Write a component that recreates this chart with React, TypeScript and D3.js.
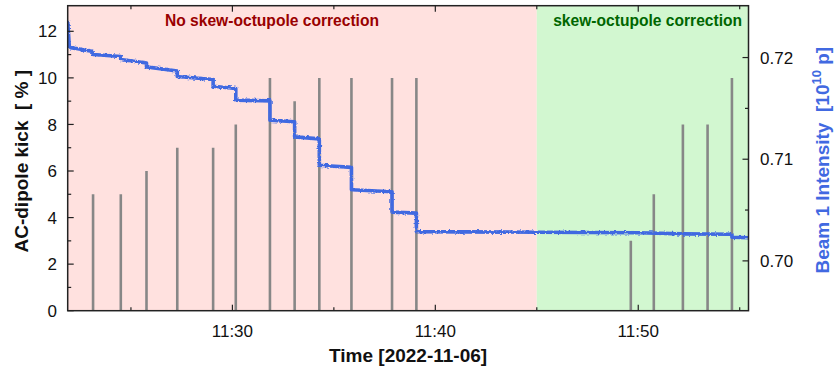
import React from "react";
import * as d3 from "d3";

// AC-dipole kicks: time of each kick and its amplitude [%]
const kickTimes = [
  "11:23:08", "11:24:30", "11:25:46", "11:27:17", "11:29:03", "11:30:10",
  "11:31:51", "11:33:04", "11:34:17", "11:35:52", "11:37:52", "11:39:04",
  "11:49:38", "11:50:46", "11:52:12", "11:53:25", "11:54:37",
];
const kickAmplitudes = [5, 5, 6, 7, 7, 8, 10, 9, 10, 10, 10, 10, 3, 5, 8, 8, 10];

// Beam 1 intensity [1e10 p]
const intensityTimes = [
  "11:21:53", "11:21:58", "11:23:08", "11:23:08", "11:24:30", "11:24:30",
  "11:25:46", "11:25:46", "11:27:17", "11:27:17", "11:29:03", "11:29:03",
  "11:30:10", "11:30:10", "11:31:51", "11:31:51", "11:33:04", "11:33:04",
  "11:34:17", "11:34:17", "11:35:52", "11:35:52", "11:37:52", "11:37:52",
  "11:39:04", "11:39:04", "11:45:00", "11:50:00", "11:52:12", "11:54:37",
  "11:54:37", "11:55:26",
];
const intensityValues = [
  0.7236, 0.7210, 0.7206, 0.7203, 0.7201, 0.7198,
  0.71947, 0.71908, 0.71868, 0.71813, 0.71784, 0.71718,
  0.71695, 0.71581, 0.71574, 0.71384, 0.71368, 0.7122,
  0.7120, 0.7094, 0.7092, 0.7070, 0.7068, 0.7048,
  0.7047, 0.70288, 0.70282, 0.70276, 0.70266, 0.70262,
  0.70232, 0.70228,
];

// Shaded periods
const periodBounds = ["11:21:53", "11:45:00", "11:55:26"];
const periodLabels = ["No skew-octupole correction", "skew-octupole correction"];
const periodFills = ["#ffe1df", "#d2f7d0"];
const periodTextColors = ["#990000", "#006600"];

// Axis ticks
const timeMajorTicks = ["11:30", "11:40", "11:50"];
const timeMinorTicks = ["11:25", "11:35", "11:45", "11:55"];
const kickMajorTicks = [0, 2, 4, 6, 8, 10, 12];
const kickMinorTicks = [1, 3, 5, 7, 9, 11];
const intensityMajorTicks = [0.7, 0.71, 0.72];
const intensityMinorTicks = [0.705, 0.715];

const W = 836;
const H = 366;
const P = { left: 67.7, right: 748.5, top: 5.7, bottom: 310.7 };
const FONT = "'Liberation Sans', Arial, Helvetica, sans-serif";
const BLUE = "#4169e1";

const parseT = d3.timeParse("%H:%M:%S");
const parseHM = d3.timeParse("%H:%M");

export default function App() {
  const x = d3
    .scaleTime()
    .domain([parseT(periodBounds[0])!, parseT(periodBounds[2])!])
    .range([P.left, P.right]);
  const yL = d3.scaleLinear().domain([0, 13.1]).range([P.bottom, P.top]);
  const yR = d3.scaleLinear().domain([0.6951, 0.7251]).range([P.bottom, P.top]);

  const intensity = intensityTimes.map((t, i) => ({ t: parseT(t)!, v: intensityValues[i] }));
  const line = d3
    .line<{ t: Date; v: number }>()
    .x((d) => x(d.t))
    .y((d) => yR(d.v));

  const majorLen = 6;
  const minorLen = 3.5;
  const axisColor = "#222";

  return (
    <svg
      width={W}
      height={H}
      style={{ position: "absolute", left: 0, top: 0, background: "#fff" }}
      fontFamily={FONT}
    >
      <defs>
        <clipPath id="plot-clip">
          <rect x={P.left} y={P.top} width={P.right - P.left} height={P.bottom - P.top} />
        </clipPath>
        {/* slight jitter on the intensity trace (measurement noise) */}
        <filter id="jitter" x="-2%" y="-5%" width="104%" height="110%">
          <feTurbulence type="fractalNoise" baseFrequency="0.35 0.6" numOctaves={2} seed={3} />
          <feDisplacementMap in="SourceGraphic" scale={3.2} xChannelSelector="R" yChannelSelector="G" />
        </filter>
      </defs>

      {/* shaded periods */}
      {periodLabels.map((lab, i) => {
        const x0 = x(parseT(periodBounds[i])!);
        const x1 = x(parseT(periodBounds[i + 1])!);
        return (
          <rect key={lab} x={x0} y={P.top} width={x1 - x0} height={P.bottom - P.top} fill={periodFills[i]} />
        );
      })}

      {/* kicks and intensity */}
      <g clipPath="url(#plot-clip)">
        {kickTimes.map((t, i) => (
          <line
            key={t}
            x1={x(parseT(t)!)}
            x2={x(parseT(t)!)}
            y1={yL(0)}
            y2={yL(kickAmplitudes[i])}
            stroke="#878787"
            strokeWidth={2.6}
          />
        ))}
        <path
          d={line(intensity) ?? ""}
          fill="none"
          stroke={BLUE}
          strokeWidth={3.6}
          strokeLinejoin="round"
          filter="url(#jitter)"
        />
      </g>

      {/* period labels */}
      {periodLabels.map((lab, i) => {
        const x0 = x(parseT(periodBounds[i])!);
        const x1 = x(parseT(periodBounds[i + 1])!);
        const cx = i === 0 ? 272 : (x0 + x1) / 2 + 5;
        return (
          <text
            key={lab}
            x={cx}
            y={26}
            textAnchor="middle"
            fontWeight="bold"
            fontSize={15.6}
            fill={periodTextColors[i]}
          >
            {lab}
          </text>
        );
      })}

      {/* frame */}
      <rect
        x={P.left}
        y={P.top}
        width={P.right - P.left}
        height={P.bottom - P.top}
        fill="none"
        stroke={axisColor}
        strokeWidth={1.5}
      />

      {/* time axis (bottom and top) */}
      {timeMajorTicks.map((s) => {
        const xx = x(parseHM(s)!);
        return (
          <g key={s}>
            <line x1={xx} x2={xx} y1={P.bottom} y2={P.bottom - majorLen} stroke={axisColor} strokeWidth={1.2} />
            <line x1={xx} x2={xx} y1={P.top} y2={P.top + majorLen} stroke={axisColor} strokeWidth={1.2} />
            <text x={xx} y={337} textAnchor="middle" fontSize={17} fill="#111">
              {s}
            </text>
          </g>
        );
      })}
      {timeMinorTicks.map((s) => {
        const xx = x(parseHM(s)!);
        return (
          <g key={s}>
            <line x1={xx} x2={xx} y1={P.bottom} y2={P.bottom - minorLen} stroke={axisColor} strokeWidth={1.2} />
            <line x1={xx} x2={xx} y1={P.top} y2={P.top + minorLen} stroke={axisColor} strokeWidth={1.2} />
          </g>
        );
      })}
      <text
        x={(P.left + P.right) / 2}
        y={362}
        textAnchor="middle"
        fontWeight="bold"
        fontSize={19}
        fill="#111"
      >
        Time [2022-11-06]
      </text>

      {/* left axis: AC-dipole kick */}
      {kickMajorTicks.map((v) => (
        <g key={v}>
          <line x1={P.left} x2={P.left + majorLen} y1={yL(v)} y2={yL(v)} stroke={axisColor} strokeWidth={1.2} />
          <text x={57} y={yL(v)} dy="0.36em" textAnchor="end" fontSize={17} fill="#111">
            {v}
          </text>
        </g>
      ))}
      {kickMinorTicks.map((v) => (
        <line key={v} x1={P.left} x2={P.left + minorLen} y1={yL(v)} y2={yL(v)} stroke={axisColor} strokeWidth={1.2} />
      ))}
      <text
        transform={`translate(28,${(P.top + P.bottom) / 2 + 3}) rotate(-90)`}
        textAnchor="middle"
        fontWeight="bold"
        fontSize={19}
        fill="#111"
        style={{ whiteSpace: "pre" }}
      >
        {"AC-dipole kick  [ % ]"}
      </text>

      {/* right axis: beam intensity */}
      {intensityMajorTicks.map((v) => (
        <g key={v}>
          <line x1={P.right} x2={P.right - majorLen} y1={yR(v)} y2={yR(v)} stroke={axisColor} strokeWidth={1.2} />
          <text x={760} y={yR(v)} dy="0.36em" textAnchor="start" fontSize={17} fill="#111">
            {v.toFixed(2)}
          </text>
        </g>
      ))}
      {intensityMinorTicks.map((v) => (
        <line key={v} x1={P.right} x2={P.right - minorLen} y1={yR(v)} y2={yR(v)} stroke={axisColor} strokeWidth={1.2} />
      ))}
      <text
        transform={`translate(829,${(P.top + P.bottom) / 2 + 2}) rotate(-90)`}
        textAnchor="middle"
        fontWeight="bold"
        fontSize={19}
        fill={BLUE}
        style={{ whiteSpace: "pre" }}
      >
        <tspan>{"Beam 1 Intensity  [10"}</tspan>
        <tspan fontSize={13} dy={-8}>
          10
        </tspan>
        <tspan dy={8}>{" p]"}</tspan>
      </text>
    </svg>
  );
}
